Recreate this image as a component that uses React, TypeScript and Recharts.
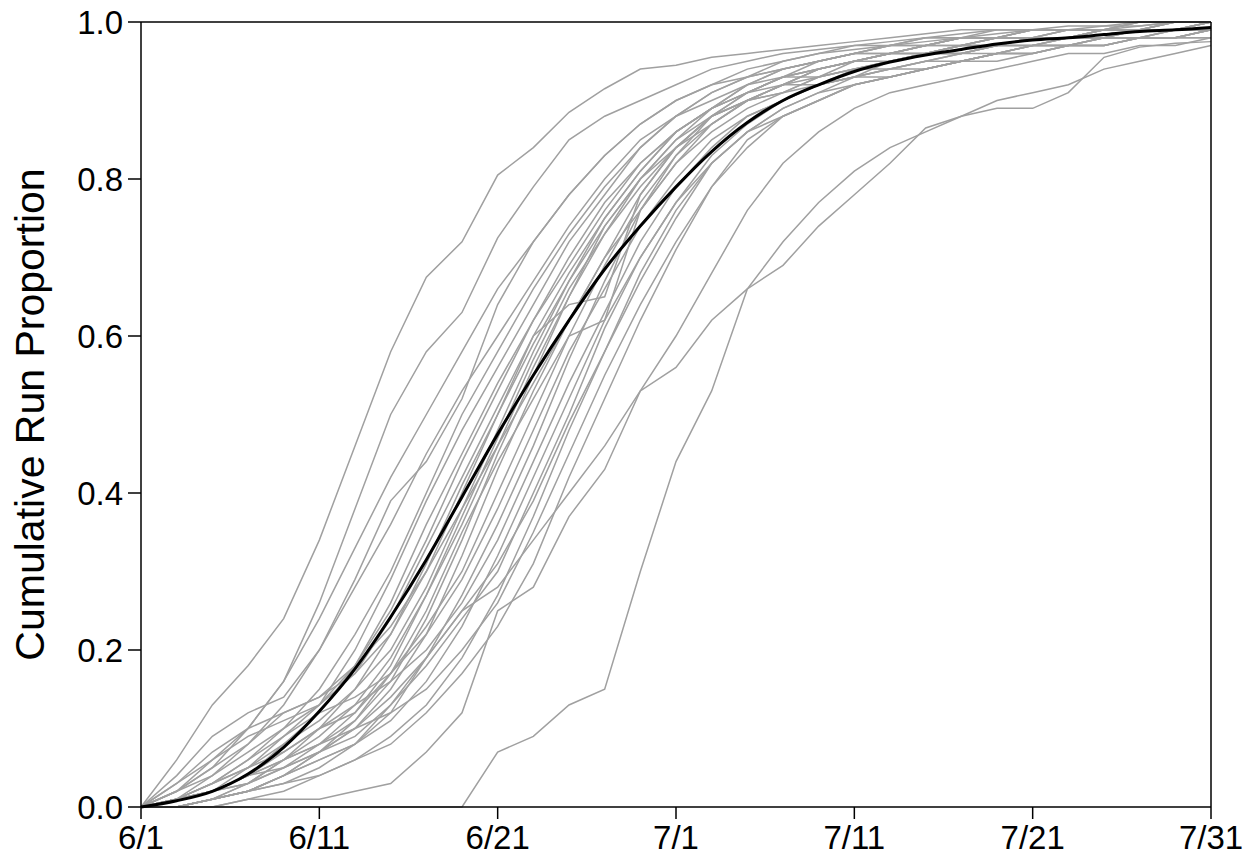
import React from 'react';
import { LineChart, Line, XAxis, YAxis, ReferenceLine } from 'recharts';

// days since 6/1, sampled every second day
const days = [0, 2, 4, 6, 8, 10, 12, 14, 16, 18, 20, 22, 24, 26, 28, 30, 32, 34, 36, 38, 40, 42, 44, 46, 48, 50, 52, 54, 56, 58, 60];
const dateTicks = [0, 10, 20, 30, 40, 50, 60];
const dateLabels = ['6/1', '6/11', '6/21', '7/1', '7/11', '7/21', '7/31'];
const propTicks = [0, 0.2, 0.4, 0.6, 0.8, 1.0];

// average run timing (black curve)
const meanRun = [0, 0.008, 0.02, 0.042, 0.076, 0.122, 0.176, 0.242, 0.315, 0.395, 0.475, 0.55, 0.62, 0.685, 0.74, 0.79, 0.835, 0.872, 0.9, 0.92, 0.937, 0.949, 0.958, 0.965, 0.972, 0.977, 0.98, 0.984, 0.988, 0.99, 0.993];

// individual years (grey curves)
const run01 = [0, 0.06, 0.13, 0.18, 0.24, 0.34, 0.46, 0.58, 0.675, 0.72, 0.805, 0.84, 0.885, 0.915, 0.94, 0.945, 0.955, 0.96, 0.965, 0.97, 0.975, 0.98, 0.985, 0.99, 0.99, 0.99, 0.995, 0.995, 1, 1, 1];
const run02 = [0, 0.03, 0.06, 0.1, 0.16, 0.26, 0.38, 0.5, 0.58, 0.63, 0.725, 0.79, 0.85, 0.88, 0.9, 0.92, 0.94, 0.95, 0.96, 0.965, 0.97, 0.975, 0.98, 0.985, 0.99, 0.99, 0.99, 0.995, 0.995, 1, 1];
const run03 = [0, 0.01, 0.04, 0.08, 0.13, 0.2, 0.29, 0.39, 0.44, 0.52, 0.64, 0.72, 0.78, 0.83, 0.87, 0.9, 0.92, 0.93, 0.95, 0.96, 0.965, 0.97, 0.975, 0.98, 0.985, 0.99, 0.99, 0.99, 0.995, 1, 1];
const run04 = [0, 0.02, 0.05, 0.1, 0.16, 0.24, 0.33, 0.42, 0.5, 0.58, 0.66, 0.72, 0.78, 0.83, 0.87, 0.9, 0.92, 0.94, 0.95, 0.96, 0.97, 0.97, 0.98, 0.98, 0.99, 0.99, 0.99, 0.99, 1, 1, 1];
const run05 = [0, 0.04, 0.09, 0.12, 0.14, 0.2, 0.28, 0.36, 0.45, 0.53, 0.6, 0.67, 0.74, 0.8, 0.85, 0.88, 0.91, 0.93, 0.94, 0.95, 0.96, 0.97, 0.98, 0.98, 0.98, 0.99, 0.99, 0.99, 1, 1, 1];
const run06 = [0, 0.01, 0.03, 0.06, 0.1, 0.15, 0.22, 0.3, 0.4, 0.5, 0.58, 0.66, 0.73, 0.79, 0.84, 0.88, 0.91, 0.93, 0.94, 0.95, 0.96, 0.97, 0.97, 0.98, 0.98, 0.99, 0.99, 0.99, 1, 1, 1];
const run07 = [0, 0.02, 0.06, 0.09, 0.11, 0.13, 0.18, 0.26, 0.36, 0.45, 0.54, 0.62, 0.69, 0.76, 0.82, 0.86, 0.89, 0.91, 0.93, 0.95, 0.96, 0.96, 0.97, 0.98, 0.98, 0.99, 0.99, 0.99, 0.99, 1, 1];
const run08 = [0, 0.01, 0.02, 0.04, 0.08, 0.12, 0.18, 0.25, 0.34, 0.44, 0.53, 0.62, 0.7, 0.77, 0.82, 0.86, 0.89, 0.91, 0.92, 0.92, 0.93, 0.94, 0.94, 0.95, 0.96, 0.97, 0.97, 0.98, 0.98, 0.99, 0.99];
const run09 = [0, 0.03, 0.07, 0.1, 0.12, 0.14, 0.17, 0.22, 0.3, 0.4, 0.5, 0.6, 0.68, 0.75, 0.81, 0.86, 0.89, 0.92, 0.94, 0.95, 0.96, 0.96, 0.97, 0.98, 0.98, 0.98, 0.99, 0.99, 0.99, 0.99, 1];
const run10 = [0, 0, 0.01, 0.03, 0.06, 0.1, 0.15, 0.22, 0.31, 0.41, 0.5, 0.59, 0.67, 0.74, 0.8, 0.85, 0.88, 0.9, 0.92, 0.94, 0.95, 0.96, 0.96, 0.97, 0.98, 0.98, 0.99, 0.99, 0.99, 1, 1];
const run11 = [0, 0.01, 0.03, 0.05, 0.08, 0.11, 0.15, 0.2, 0.28, 0.38, 0.48, 0.58, 0.67, 0.75, 0.81, 0.86, 0.89, 0.91, 0.93, 0.94, 0.95, 0.96, 0.97, 0.97, 0.98, 0.98, 0.98, 0.99, 0.99, 0.99, 1];
const run12 = [0, 0, 0.01, 0.03, 0.06, 0.09, 0.13, 0.19, 0.27, 0.36, 0.46, 0.56, 0.65, 0.73, 0.8, 0.85, 0.89, 0.92, 0.93, 0.93, 0.94, 0.94, 0.95, 0.95, 0.96, 0.96, 0.97, 0.97, 0.98, 0.98, 0.99];
const run13 = [0, 0.01, 0.02, 0.04, 0.06, 0.08, 0.11, 0.16, 0.24, 0.34, 0.45, 0.55, 0.65, 0.74, 0.8, 0.84, 0.87, 0.9, 0.92, 0.93, 0.94, 0.95, 0.96, 0.97, 0.97, 0.98, 0.98, 0.99, 0.99, 0.99, 1];
const run14 = [0, 0.02, 0.05, 0.08, 0.12, 0.14, 0.18, 0.23, 0.3, 0.38, 0.46, 0.54, 0.62, 0.7, 0.76, 0.82, 0.87, 0.9, 0.92, 0.94, 0.95, 0.96, 0.97, 0.97, 0.98, 0.98, 0.98, 0.99, 0.99, 0.99, 1];
const run15 = [0, 0, 0.01, 0.02, 0.04, 0.07, 0.1, 0.15, 0.22, 0.32, 0.43, 0.53, 0.62, 0.7, 0.78, 0.84, 0.88, 0.91, 0.93, 0.94, 0.95, 0.95, 0.96, 0.96, 0.97, 0.97, 0.98, 0.98, 0.98, 0.99, 0.99];
const run16 = [0, 0.01, 0.02, 0.03, 0.05, 0.08, 0.12, 0.17, 0.23, 0.3, 0.4, 0.5, 0.6, 0.69, 0.77, 0.83, 0.87, 0.9, 0.92, 0.94, 0.95, 0.96, 0.96, 0.97, 0.98, 0.98, 0.98, 0.99, 0.99, 0.99, 1];
const run17 = [0, 0.01, 0.03, 0.06, 0.09, 0.12, 0.14, 0.17, 0.22, 0.29, 0.38, 0.48, 0.58, 0.66, 0.74, 0.8, 0.85, 0.88, 0.9, 0.92, 0.93, 0.95, 0.96, 0.96, 0.97, 0.98, 0.98, 0.98, 0.99, 0.99, 0.99];
const run18 = [0, 0, 0.01, 0.02, 0.03, 0.05, 0.08, 0.13, 0.19, 0.27, 0.36, 0.46, 0.57, 0.67, 0.76, 0.83, 0.88, 0.9, 0.91, 0.92, 0.93, 0.93, 0.94, 0.95, 0.95, 0.96, 0.97, 0.97, 0.98, 0.98, 0.98];
const run19 = [0, 0.01, 0.02, 0.04, 0.07, 0.1, 0.13, 0.16, 0.2, 0.26, 0.34, 0.44, 0.54, 0.63, 0.72, 0.79, 0.84, 0.88, 0.9, 0.92, 0.94, 0.95, 0.96, 0.96, 0.97, 0.97, 0.98, 0.98, 0.99, 0.99, 0.99];
const run20 = [0, 0, 0.01, 0.02, 0.04, 0.06, 0.08, 0.11, 0.16, 0.23, 0.32, 0.42, 0.52, 0.62, 0.7, 0.77, 0.83, 0.87, 0.9, 0.92, 0.93, 0.94, 0.95, 0.96, 0.97, 0.97, 0.98, 0.98, 0.98, 0.99, 0.99];
const run21 = [0, 0.01, 0.02, 0.03, 0.05, 0.07, 0.1, 0.14, 0.19, 0.25, 0.31, 0.39, 0.49, 0.58, 0.67, 0.75, 0.82, 0.86, 0.89, 0.91, 0.92, 0.93, 0.94, 0.95, 0.96, 0.97, 0.97, 0.98, 0.98, 0.98, 0.99];
const run22 = [0, 0, 0, 0.01, 0.02, 0.04, 0.06, 0.09, 0.13, 0.19, 0.27, 0.37, 0.48, 0.58, 0.68, 0.76, 0.82, 0.86, 0.89, 0.91, 0.93, 0.94, 0.95, 0.96, 0.96, 0.97, 0.97, 0.98, 0.98, 0.98, 0.99];
const run23 = [0, 0.01, 0.02, 0.04, 0.06, 0.08, 0.1, 0.12, 0.15, 0.2, 0.26, 0.35, 0.45, 0.55, 0.64, 0.72, 0.79, 0.84, 0.88, 0.9, 0.92, 0.93, 0.94, 0.95, 0.96, 0.96, 0.97, 0.97, 0.98, 0.98, 0.98];
const run24 = [0, 0, 0.01, 0.02, 0.03, 0.04, 0.06, 0.08, 0.12, 0.17, 0.23, 0.31, 0.42, 0.52, 0.62, 0.71, 0.79, 0.85, 0.88, 0.9, 0.92, 0.93, 0.94, 0.95, 0.96, 0.96, 0.97, 0.97, 0.98, 0.98, 0.99];
const run25 = [0, 0, 0.01, 0.02, 0.04, 0.06, 0.08, 0.12, 0.19, 0.25, 0.28, 0.34, 0.4, 0.46, 0.53, 0.6, 0.68, 0.76, 0.82, 0.86, 0.89, 0.91, 0.92, 0.93, 0.94, 0.95, 0.96, 0.96, 0.97, 0.97, 0.98];
const run26 = [0, 0, 0, 0.01, 0.01, 0.01, 0.02, 0.03, 0.07, 0.12, 0.25, 0.28, 0.37, 0.43, 0.53, 0.56, 0.62, 0.66, 0.72, 0.77, 0.81, 0.84, 0.86, 0.88, 0.9, 0.91, 0.92, 0.94, 0.95, 0.96, 0.97];
const run27 = [0, 0, 0, 0, 0, 0, 0, 0, 0, 0, 0.07, 0.09, 0.13, 0.15, 0.3, 0.44, 0.53, 0.66, 0.69, 0.74, 0.78, 0.82, 0.865, 0.88, 0.89, 0.89, 0.91, 0.955, 0.968, 0.973, 0.975];
const run28 = [0, 0.02, 0.04, 0.07, 0.1, 0.13, 0.2, 0.29, 0.39, 0.48, 0.56, 0.64, 0.72, 0.78, 0.84, 0.88, 0.9, 0.92, 0.94, 0.95, 0.96, 0.97, 0.97, 0.98, 0.98, 0.99, 0.99, 0.99, 0.99, 1, 1];
const run29 = [0, 0.01, 0.02, 0.05, 0.09, 0.13, 0.17, 0.24, 0.33, 0.42, 0.51, 0.6, 0.64, 0.65, 0.78, 0.84, 0.88, 0.91, 0.93, 0.94, 0.95, 0.96, 0.97, 0.98, 0.98, 0.98, 0.99, 0.99, 0.99, 1, 1];
const run30 = [0, 0.01, 0.03, 0.05, 0.07, 0.1, 0.12, 0.18, 0.27, 0.37, 0.47, 0.57, 0.66, 0.73, 0.79, 0.84, 0.88, 0.9, 0.91, 0.93, 0.94, 0.95, 0.96, 0.97, 0.97, 0.98, 0.98, 0.99, 0.99, 0.99, 0.99];
const run31 = [0, 0, 0.01, 0.02, 0.04, 0.07, 0.11, 0.17, 0.25, 0.35, 0.44, 0.52, 0.6, 0.62, 0.76, 0.82, 0.86, 0.89, 0.91, 0.93, 0.95, 0.96, 0.96, 0.97, 0.97, 0.98, 0.98, 0.98, 0.99, 0.99, 0.99];
const run32 = [0, 0.01, 0.02, 0.04, 0.05, 0.07, 0.09, 0.13, 0.18, 0.24, 0.3, 0.4, 0.5, 0.61, 0.7, 0.77, 0.82, 0.86, 0.88, 0.9, 0.92, 0.93, 0.94, 0.95, 0.96, 0.97, 0.97, 0.98, 0.98, 0.98, 0.99];

const runs = [
  run01, run02, run03, run04, run05, run06, run07, run08, run09, run10, run11,
  run12, run13, run14, run15, run16, run17, run18, run19, run20, run21, run22,
  run23, run24, run25, run26, run27, run28, run29, run30, run31, run32,
];

const rows = days.map((day, i) => {
  const row: Record<string, number> = { day, mean: meanRun[i] };
  runs.forEach((r, k) => { row[`r${k}`] = r[i]; });
  return row;
});

const font = '"Liberation Sans", Arial, sans-serif';

const YTitle = (props: any) => {
  const vb = props.viewBox || { y: 22, height: 785 };
  const cy = vb.y + vb.height / 2;
  return (
    <text x={30} y={cy} transform={`rotate(-90, 30, ${cy})`} textAnchor="middle" dominantBaseline="central"
      fontFamily={font} fontSize={41} fill="#000">
      Cumulative Run Proportion
    </text>
  );
};

export default function App() {
  return (
    <div style={{ position: 'absolute', left: 0, top: 0, width: 1254, height: 863, background: '#fff' }}>
      <LineChart width={1254} height={863} data={rows} margin={{ top: 22, right: 43, left: 0, bottom: 0 }}>
        <XAxis dataKey="day" type="number" domain={[0, 60]} ticks={dateTicks} height={56}
          tickFormatter={(v: number) => dateLabels[dateTicks.indexOf(v)]}
          axisLine={{ stroke: '#000', strokeWidth: 1.5 }} tickLine={{ stroke: '#000', strokeWidth: 1.5 }}
          tickSize={12} tickMargin={7} interval={0}
          tick={{ fontFamily: font, fontSize: 33, fill: '#000' }} />
        <YAxis type="number" domain={[0, 1]} ticks={propTicks} width={141}
          tickFormatter={(v: number) => v.toFixed(1)}
          axisLine={{ stroke: '#000', strokeWidth: 1.5 }} tickLine={{ stroke: '#000', strokeWidth: 1.5 }}
          tickSize={13} tickMargin={5} interval={0}
          tick={{ fontFamily: font, fontSize: 33, fill: '#000' }}
          label={<YTitle />} />
        {runs.map((_, k) => (
          <Line key={k} dataKey={`r${k}`} type="linear" stroke="#a0a0a0" strokeWidth={1.5}
            dot={false} activeDot={false} isAnimationActive={false} />
        ))}
        <Line dataKey="mean" type="monotone" stroke="#000" strokeWidth={3}
          dot={false} activeDot={false} isAnimationActive={false} />
        <ReferenceLine y={1} stroke="#000" strokeWidth={1.5} />
        <ReferenceLine x={60} stroke="#000" strokeWidth={1.5} />
      </LineChart>
    </div>
  );
}
